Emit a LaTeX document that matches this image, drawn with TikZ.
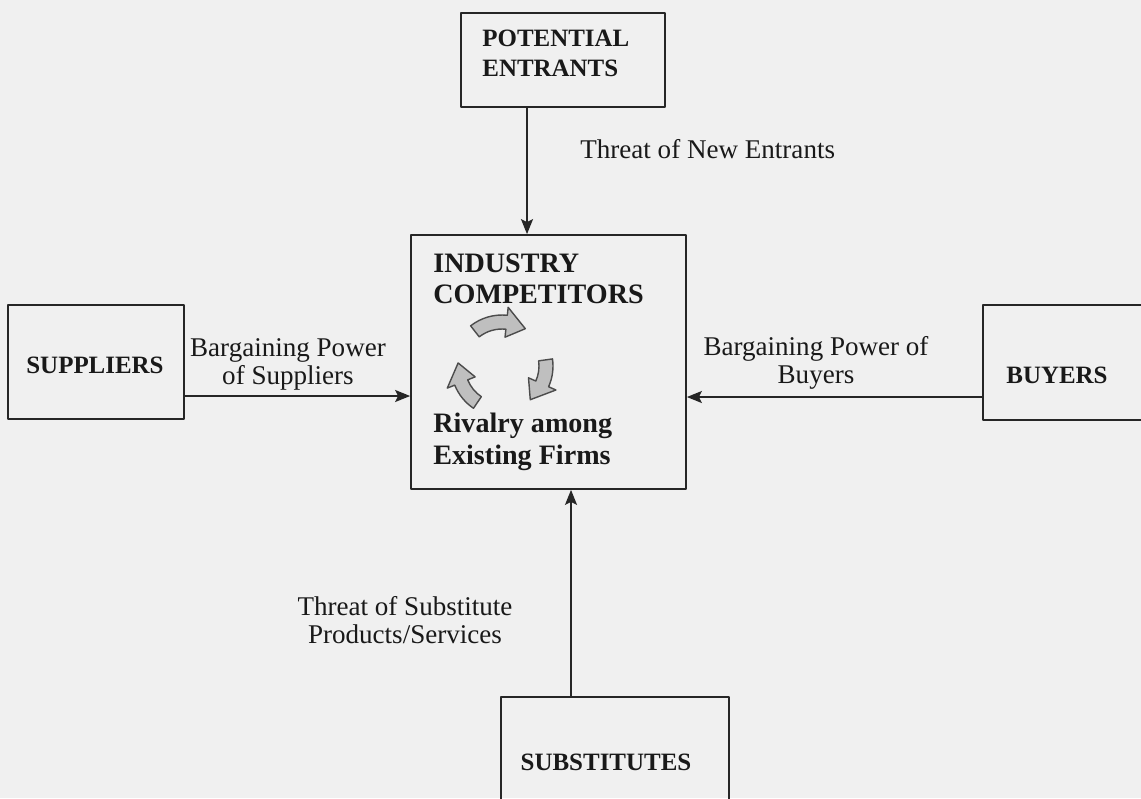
\documentclass[tikz,border=0pt]{standalone}
\usepackage{fontspec}
\setmainfont{Liberation Serif}
\usetikzlibrary{arrows.meta}
\def\px{0.02cm}
\newcommand{\rotarrow}[2]{%
  \filldraw[rotarr] (#1:0.74cm) arc[start angle=#1, end angle=#2+26, radius=0.74cm]
    -- (#2+26:0.58cm) -- (#2:0.88cm) -- (#2+26:1.18cm) -- (#2+26:1.02cm)
    arc[start angle=#2+26, end angle=#1, radius=1.02cm] -- cycle;}
\begin{document}
\begin{tikzpicture}[x=0.02cm, y=-0.02cm, line cap=round, line join=round, >={Stealth[length=3mm,width=2.4mm,inset=0.6mm]}]
\tikzset{box/.style={draw=black!85, line width=1pt, inner sep=0pt},
  boxtext/.style={font=\bfseries\fontsize{14.2}{17}\selectfont, inner sep=0pt, align=left, text=black!90},
  bigtext/.style={font=\bfseries\fontsize{16}{17.8}\selectfont, inner sep=0pt, align=left, text=black!90},
  lbl/.style={font=\fontsize{15.4}{15.9}\selectfont, inner sep=0pt, align=center, text=black!90},
  rotarr/.style={fill=black!25, draw=black!70, line width=0.8pt}}
\path[use as bounding box] (0,0) rectangle (1141,798);
\clip (0,0) rectangle (1141,798);
\fill[black!6] (0,0) rectangle (1141,798);
\node[box, minimum width=204*\px, minimum height=94*\px] (pot) at (563,60) {};
\node[box, minimum width=275*\px, minimum height=254*\px] (ind) at (548.5,362) {};
\node[box, minimum width=176*\px, minimum height=114*\px] (sup) at (96,362) {};
\node[box, minimum width=187*\px, minimum height=115*\px] (buy) at (1076.5,362.5) {};
\node[box, minimum width=228*\px, minimum height=133*\px] (sub) at (615,763.5) {};
\node[boxtext, anchor=north west] (pottxt) at (482,30) {POTENTIAL\\ENTRANTS};
\node[bigtext, anchor=north west] (indtxt) at (433,253.5) {INDUSTRY\\COMPETITORS};
\node[bigtext, anchor=north west] (rivtxt) at (433,413) {Rivalry among\\Existing Firms};
\node[boxtext, anchor=base] (suptxt) at (95,373) {SUPPLIERS};
\node[boxtext, anchor=base] (buytxt) at (1057,383) {BUYERS};
\node[boxtext, anchor=base] (subtxt) at (606,770) {SUBSTITUTES};
\node[lbl, anchor=north west] (newlbl) at (580,139.5) {Threat of New Entrants};
\node[lbl, anchor=north] (suplbl) at (288,338.5) {Bargaining Power\\of Suppliers};
\node[lbl, anchor=north] (buylbl) at (816,336.5) {Bargaining Power of\\Buyers};
\node[lbl, anchor=north] (sublbl) at (405,596.5) {Threat of Substitute\\Products/Services};
\path (527,0) coordinate (tx) (571,0) coordinate (bx) (0,396) coordinate (ly) (0,397) coordinate (ry);
\draw[->, line width=1pt, black!85] (tx |- pot.south) -- (tx |- ind.north);
\draw[->, line width=1pt, black!85] (bx |- sub.north) -- (bx |- ind.south);
\draw[->, line width=1pt, black!85] (sup.east |- ly) -- (ind.west |- ly);
\draw[->, line width=1pt, black!85] (buy.west |- ry) -- (ind.east |- ry);
\begin{scope}[shift={(502,366)}]
  \foreach \a/\b in {128/58, 8/-50, 236/176} \rotarrow{\a}{\b};
\end{scope}
\end{tikzpicture}
\end{document}
